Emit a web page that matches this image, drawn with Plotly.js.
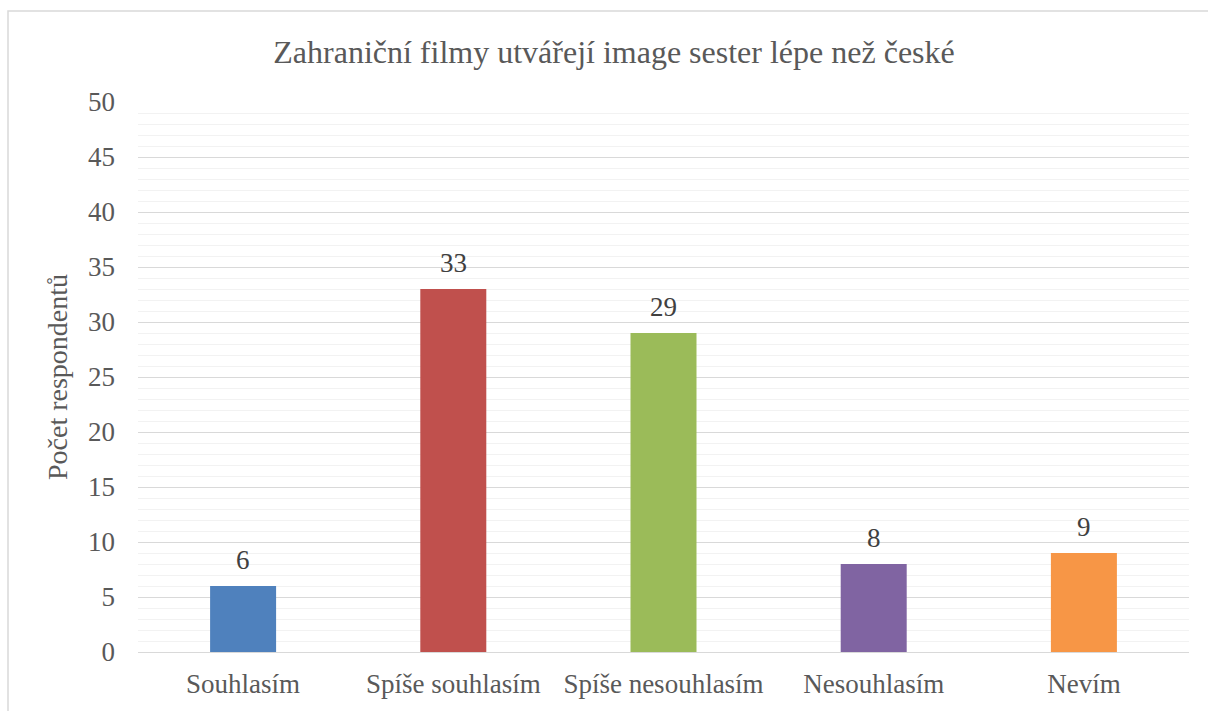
<!DOCTYPE html>
<html>
<head>
<meta charset="utf-8">
<script src="https://cdn.plot.ly/plotly-3.0.1.min.js"></script>
<style>html,body{margin:0;padding:0;background:#fff;}#chart{width:1208px;height:711px;}</style>
</head>
<body>
<div id="chart"></div>
<script>
var categories = ["Souhlasím", "Spíše souhlasím", "Spíše nesouhlasím", "Nesouhlasím", "Nevím"];
var values = [6, 33, 29, 8, 9];
var colors = ["#4F81BD", "#C0504D", "#9BBB59", "#8064A2", "#F79646"];
var yTicks = [0, 5, 10, 15, 20, 25, 30, 35, 40, 45, 50];

var FONT = "'Liberation Serif', 'Times New Roman', 'DejaVu Serif', serif";

var trace = {
  type: "bar",
  x: categories,
  y: values,
  marker: {color: colors},
  hoverinfo: "x+y"
};

var labelAnnotations = categories.map(function (c, i) {
  return {
    x: c, y: values[i], xref: "x", yref: "y",
    text: String(values[i]), showarrow: false,
    yanchor: "bottom", yshift: 9,
    font: {family: FONT, size: 27, color: "#404040"}
  };
});

var layout = {
  width: 1208, height: 711,
  margin: {l: 138, r: 19, t: 102, b: 59},
  paper_bgcolor: "#fff", plot_bgcolor: "#fff",
  bargap: 0.686,
  showlegend: false,
  font: {family: FONT, color: "#595959"},
  title: {text: "Zahraniční filmy utvářejí image sester lépe než české",
          font: {family: FONT, size: 32, color: "#595959"},
          x: 614 / 1208, xanchor: "center", xref: "container",
          y: 1 - 52/711, yanchor: "middle", yref: "container"},
  xaxis: {
    tickfont: {family: FONT, size: 27, color: "#595959"},
    showline: true, linecolor: "#d9d9d9", linewidth: 1,
    ticks: "", showgrid: false, fixedrange: true,
    ticklabelstandoff: 8
  },
  yaxis: {
    range: [0, 50],
    tickvals: yTicks,
    ticktext: yTicks.map(String),
    tickfont: {family: FONT, size: 27, color: "#595959"},
    showgrid: true, gridcolor: "#d9d9d9", gridwidth: 1,
    zeroline: false, showline: false, ticks: "",
    ticklabelstandoff: 22,
    minor: {dtick: 1, showgrid: true, gridcolor: "#f2f2f2", gridwidth: 1, ticks: ""},
    title: {text: "Počet respondentů", font: {family: FONT, size: 28, color: "#595959"}, standoff: 12},
    fixedrange: true
  },
  annotations: labelAnnotations,
  shapes: [{
    type: "rect", xref: "paper", yref: "paper",
    x0: (8 - 138) / 1051, x1: 1.2, y0: -0.3, y1: (652 - 11) / 550,
    line: {color: "#d9d9d9", width: 1.5}, fillcolor: "rgba(0,0,0,0)", layer: "below"
  }]
};

Plotly.newPlot("chart", [trace], layout, {displayModeBar: false, staticPlot: true});
</script>
</body>
</html>
